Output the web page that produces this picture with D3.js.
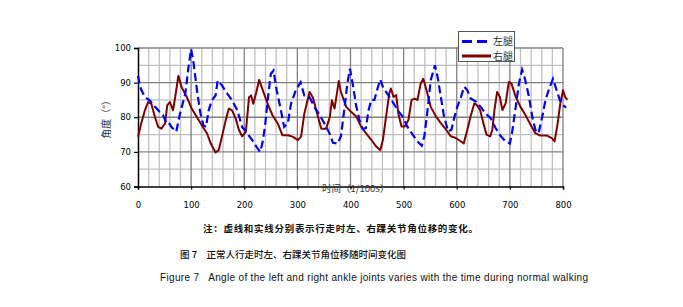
<!DOCTYPE html>
<html><head><meta charset="utf-8">
<script src="https://cdn.jsdelivr.net/npm/d3@7"></script>
<style>body{margin:0;background:#fff}svg{display:block}</style>
</head><body><svg id="c" width="683" height="307"></svg>
<script>
const xTicks = [0,100,200,300,400,500,600,700,800];
const yTicks = [60,70,80,90,100];
const seriesNames = ["左腿","右腿"];
const leftT = [0,3,6,13,22,32,41,47,54,58,63,72,79,89,95,100,104,111,117,123,128,133,139,146,150,158,168,177,187,196,206,215,225,230,234,239,244,250,255,261,269,275,282,288,297,306,313,323,332,342,351,360,367,376,382,389,394,399,404,411,417,423,429,434,439,445,450,456,461,467,473,479,489,498,507,517,526,534,539,545,551,559,564,570,576,584,590,595,601,608,614,620,626,636,645,654,664,673,682,692,700,704,711,717,723,729,736,742,748,754,761,767,773,781,788,794,800,806];
const leftV = [92,89.5,88,85.8,84.9,83,81.5,80.6,78.2,78.4,77.2,75.8,81,86.8,94.4,99.7,96.4,87.8,81.5,77.7,77.2,82,84.9,86.3,90.6,89.2,86.8,84.9,82,77.2,75.3,73.4,71,70,72.4,77.2,84.9,92.5,93.5,87.8,82,77.2,78.2,83.9,87.8,90.1,86.3,85.8,83,80.6,78.2,75.5,72.6,72.4,74.5,83,89.7,94,89.7,83,79.2,76.6,76.9,82,85,85,87.8,90.9,88.8,87.3,85.9,84.5,82,80.2,77.3,75,73,71.8,74.5,82,90.7,95,91.6,85.9,80.2,75.9,76.4,79.7,83,85.9,88.8,87.8,85.4,84.5,83,81.1,79.7,76.9,74.7,73,72.4,75.4,83,89.7,93.7,90.7,85.9,80.2,76.4,75.4,80.2,85,87.8,91.1,87.8,85,83.5,82.8];
const rightT = [0,6,13,19,25,32,38,44,51,55,60,66,72,76,82,92,101,111,120,130,137,146,152,158,165,171,177,184,190,196,203,209,213,217,222,228,234,244,253,263,272,282,291,301,307,313,323,329,339,345,354,361,365,370,378,382,392,401,411,420,429,439,448,456,461,467,473,476,481,486,490,496,502,509,515,521,526,532,537,544,551,561,570,580,589,598,608,613,620,626,633,638,644,650,656,663,667,671,676,681,686,692,698,703,711,720,729,739,748,757,770,779,784,789,795,800,804,808];
const rightV = [74.4,78.2,82,84.4,83.9,80,77.2,76.7,78.2,83.4,84.4,82,87.8,92,88.7,85.8,82.5,80,77.7,75.3,72.4,69.8,70.5,74.4,79.1,82.5,82,79.6,76.3,74.5,75.8,85.8,86.3,83.9,86.8,90.8,88.2,83.9,80.6,78.2,74.8,74.8,74.4,73.4,74.4,81,87.3,85.8,80,76.7,76.7,80,84.9,82.5,90.5,87.3,83,81.6,80.2,77.3,75.4,73.5,71.6,70.5,73.5,80.2,86.9,88.3,85.9,86.4,81.1,77.3,77.3,79.2,85,85.4,85,89.7,91.1,87.3,83,80.2,78.3,76.4,74.5,74,73,72.4,76.4,80.2,84,83.5,82.1,78.3,75,74.5,76.4,82.1,87.3,85.9,82.1,84,90.2,89.7,85.9,83,80.7,77.8,75.4,74.7,74.7,74,73,77.3,84,87.8,85.9,85];

const svg = d3.select("#c");
const L=138, R=563, T=48, B=186.5;
const x = d3.scaleLinear().domain([0,800]).range([L,R]);
const y = d3.scaleLinear().domain([60,100]).range([B,T]);
const g = svg.append("g");

// minor grid
d3.range(0,801,20).filter(v=>v%100!==0).forEach(v=>{
  g.append("line").attr("x1",x(v)).attr("x2",x(v)).attr("y1",T).attr("y2",B).attr("stroke","#c0c0c0").attr("stroke-width",1.3);
});
[65,75,85,95].forEach(v=>{
  g.append("line").attr("x1",L).attr("x2",R).attr("y1",y(v)).attr("y2",y(v)).attr("stroke","#c0c0c0").attr("stroke-width",1.3);
});
// major grid
xTicks.filter(v=>v>0).forEach(v=>{
  g.append("line").attr("x1",x(v)).attr("x2",x(v)).attr("y1",T).attr("y2",B).attr("stroke","#808080").attr("stroke-width",1.3);
});
yTicks.filter(v=>v>60).forEach(v=>{
  g.append("line").attr("x1",L).attr("x2",R).attr("y1",y(v)).attr("y2",y(v)).attr("stroke","#808080").attr("stroke-width",1.3);
});

// axes
const xa = svg.append("g").attr("transform",`translate(0,${B})`)
  .call(d3.axisBottom(x).tickValues(xTicks).tickSize(3).tickPadding(12));
const ya = svg.append("g").attr("transform",`translate(${L},0)`)
  .call(d3.axisLeft(y).tickValues(yTicks).tickSize(4).tickPadding(3));
[xa,ya].forEach(a=>{
  a.select(".domain").attr("stroke","#000").attr("stroke-width",1.5);
  a.selectAll(".tick line").attr("stroke","#000").attr("stroke-width",1.2);
  a.selectAll("text").attr("font-family","DejaVu Sans, Verdana, sans-serif").attr("font-size","8.5px").attr("fill","#000");
});

// lines
const line = d3.line().x(d=>x(d[0])).y(d=>y(d[1]));
const leftData = leftT.map((t,i)=>[t,leftV[i]]);
const rightData = rightT.map((t,i)=>[t,rightV[i]]);
svg.append("path").datum(rightData).attr("d",line).attr("fill","none")
  .attr("stroke","#800000").attr("stroke-width",2).attr("stroke-linejoin","round");
svg.append("path").datum(leftData).attr("d",line).attr("fill","none")
  .attr("stroke","#0000ff").attr("stroke-width",2.2).attr("stroke-dasharray","8,4");

// axis titles
svg.append("text").attr("transform","translate(110,117) rotate(-90)").attr("text-anchor","middle")
  .attr("font-family","Noto Sans CJK SC, sans-serif").attr("font-size","10px").attr("fill","#333").text("角度（°）");
svg.append("text").attr("x",322).attr("y",192)
  .attr("font-family","Noto Sans CJK SC, sans-serif").attr("font-size","9.5px").attr("fill","#333").text("时间（1/100s）");

// legend
const lg = svg.append("g");
lg.append("rect").attr("x",458.5).attr("y",31.5).attr("width",56).attr("height",30).attr("fill","#fff").attr("stroke","#555").attr("stroke-width",1);
lg.append("line").attr("x1",462).attr("x2",491).attr("y1",41.5).attr("y2",41.5).attr("stroke","#0000ff").attr("stroke-width",3).attr("stroke-dasharray","10,5");
lg.append("line").attr("x1",462).attr("x2",491).attr("y1",56).attr("y2",56).attr("stroke","#800000").attr("stroke-width",3);
[seriesNames[0],seriesNames[1]].forEach((s,i)=>{
  lg.append("text").attr("x",493).attr("y",[45,60][i]).attr("font-family","Noto Sans CJK SC, sans-serif")
    .attr("font-size","10px").attr("fill","#333").text(s);
});

// captions
svg.append("text").attr("x",203).attr("y",231.5).attr("font-family","Noto Sans CJK SC, sans-serif")
  .attr("font-size","9.5px").attr("font-weight","bold").attr("fill","#111").attr("textLength",275)
  .text("注：虚线和实线分别表示行走时左、右踝关节角位移的变化。");
svg.append("text").attr("x",180).attr("y",258).attr("font-family","Noto Sans CJK SC, sans-serif")
  .attr("font-size","9.5px").attr("font-weight","500").attr("fill","#111").attr("xml:space","preserve")
  .text("图 7　正常人行走时左、右踝关节角位移随时间变化图");
svg.append("text").attr("x",160).attr("y",280.5).attr("font-family","Liberation Sans, Arial, sans-serif")
  .attr("font-size","10px").attr("fill","#111").attr("textLength",428).attr("xml:space","preserve")
  .text("Figure 7   Angle of the left and right ankle joints varies with the time during normal walking");
</script></body></html>
